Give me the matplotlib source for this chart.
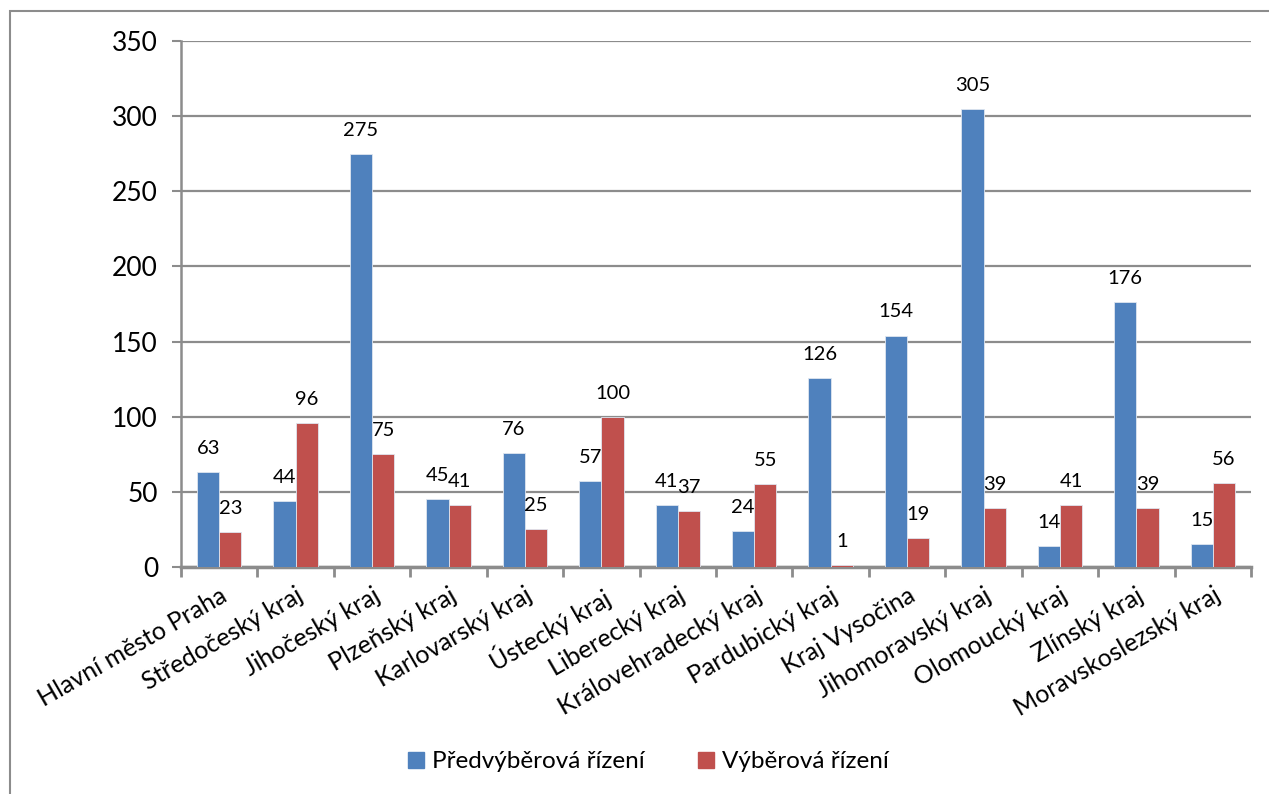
import numpy as np
import matplotlib.pyplot as plt
from matplotlib.patches import Patch, Rectangle

plt.rcParams['font.family'] = ['Lato', 'DejaVu Sans']

kraje = ["Hlavní město Praha", "Středočeský kraj", "Jihočeský kraj", "Plzeňský kraj",
         "Karlovarský kraj", "Ústecký kraj", "Liberecký kraj", "Královehradecký kraj",
         "Pardubický kraj", "Kraj Vysočina", "Jihomoravský kraj", "Olomoucký kraj",
         "Zlínský kraj", "Moravskoslezský kraj"]
predvyber = [63, 44, 275, 45, 76, 57, 41, 24, 126, 154, 305, 14, 176, 15]
vyber = [23, 96, 75, 41, 25, 100, 37, 55, 1, 19, 39, 41, 39, 56]
serie = ["Předvýběrová řízení", "Výběrová řízení"]
barvy = ["#4F81BD", "#C0504D"]
grid_col = "#8c8c8c"

fig = plt.figure(figsize=(12.69, 7.94), dpi=100)
# chart frame (only top and left edges fall inside the image)
fig.patches.append(Rectangle((10 / 1269, -0.1), 1.2, 1 - 11 / 794 + 0.1,
                             transform=fig.transFigure, fill=False,
                             edgecolor="#8c8c8c", linewidth=1.5))
ax = fig.add_axes([181 / 1269, 1 - 567 / 794, (1251 - 181) / 1269, (567 - 41) / 794])

x = np.arange(len(kraje))
w = 0.29
for i, (vals, c) in enumerate(zip([predvyber, vyber], barvy)):
    pos = x + (i - 0.5) * w
    ax.bar(pos, vals, width=w, color=c, edgecolor="#dfe6f0", linewidth=0.6, zorder=3)
    for px, v in zip(pos, vals):
        ax.annotate(str(v), (px, v), xytext=(0, 17), textcoords="offset points",
                    ha="center", va="center", fontsize=14.5, color="black")

ax.set_xlim(-0.5, len(kraje) - 0.5)
ax.set_ylim(0, 350)
ax.set_yticks(range(0, 351, 50))
ax.yaxis.grid(True, color=grid_col, linewidth=1.6, zorder=0)
ax.set_axisbelow(True)

ax.set_xticks(x)
ax.set_xticklabels(kraje, rotation=30, ha="right", rotation_mode="anchor", fontsize=18)
ax.set_xticks(np.arange(-0.5, len(kraje), 1), minor=True)
ax.tick_params(axis="x", which="major", length=0, pad=12)
ax.tick_params(axis="x", which="minor", length=7, width=2, color=grid_col)
ax.tick_params(axis="y", length=6.5, width=1.5, color=grid_col, labelsize=19, pad=10)

for s in ["top", "right"]:
    ax.spines[s].set_visible(False)
ax.spines["left"].set_color(grid_col)
ax.spines["left"].set_linewidth(1.8)
ax.spines["bottom"].set_color(grid_col)
ax.spines["bottom"].set_linewidth(2.5)

handles = [Patch(color=c) for c in barvy]
fig.legend(handles, serie, loc="center", bbox_to_anchor=(0.511, 1 - 762 / 794), ncol=2,
           frameon=False, fontsize=17.5, handlelength=0.65, handleheight=0.65,
           handletextpad=0.35, columnspacing=2.2)

fig.savefig("out.png", dpi=100)
